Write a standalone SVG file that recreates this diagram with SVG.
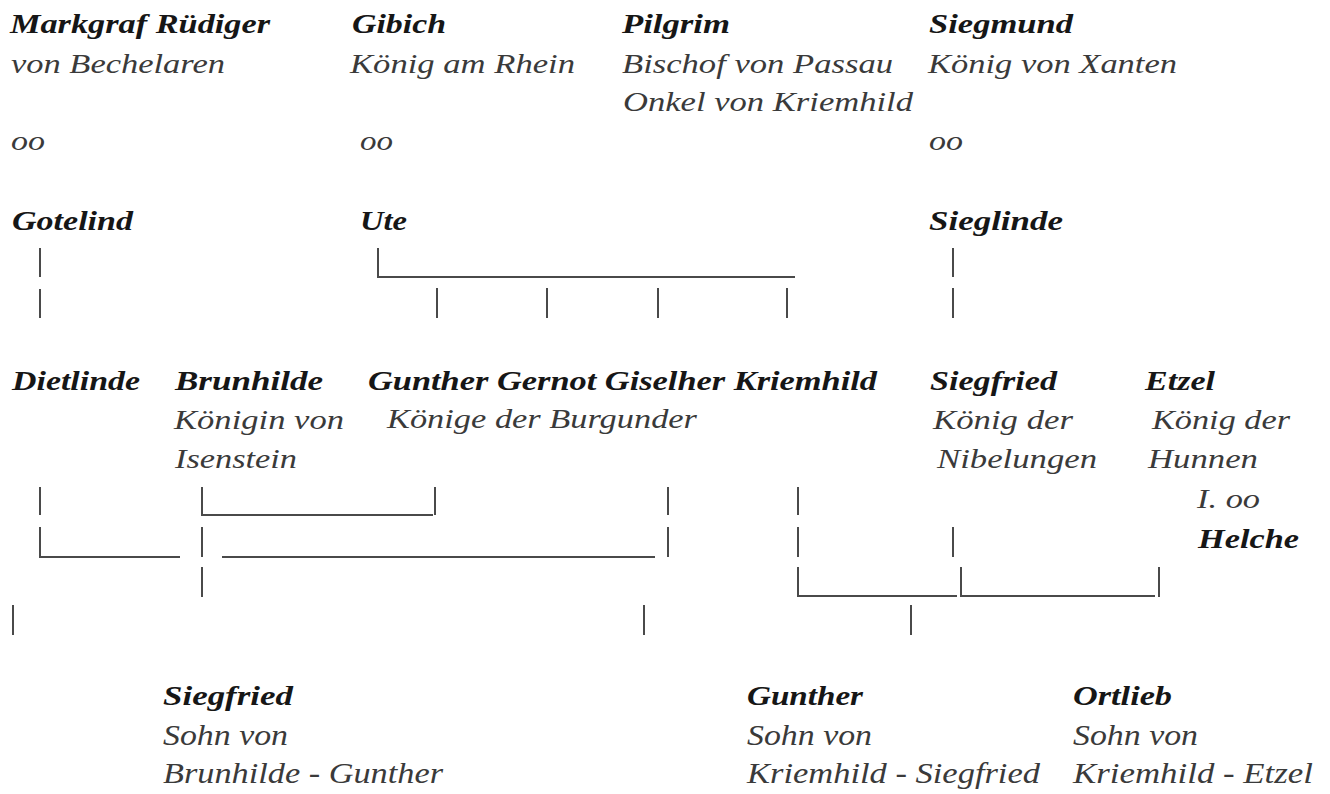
<svg xmlns="http://www.w3.org/2000/svg" width="1330" height="794" viewBox="0 0 1330 794" font-family="'Liberation Serif', Tinos, 'Times New Roman', Times, serif">
<style>
text{font-style:italic;font-size:28px;fill:#3a3a3a}
.n{font-weight:bold;font-size:27px;fill:#161616}
.b{font-size:30px}
.n.b{font-size:28px}
.c path{fill:none;stroke:#4a4a4a;stroke-width:2}
</style>
<rect width="1330" height="794" fill="#fff"/>
<g class="c" id="connectors">
<path d="M40 248V277M40 289V318"/>
<path d="M378 248V277H795"/>
<path d="M437 288V318M547 288V318M658 288V318M787 288V318"/>
<path d="M953 248V277M953 288V318"/>
<path d="M40 487V515M40 527V557H180"/>
<path d="M202 487V515H433M435 487V515"/>
<path d="M202 527V557M202 567V597"/>
<path d="M222 557H655"/>
<path d="M668 487V515M668 527V557"/>
<path d="M798 487V515M798 527V557M798 567V596H957"/>
<path d="M953 527V557"/>
<path d="M961 567V596H1155M1159 567V597"/>
<path d="M13 605V635M644 605V635M911 605V635"/>
</g>
<g id="ruediger"><text class="n" x="10" y="33" textLength="260" lengthAdjust="spacingAndGlyphs">Markgraf Rüdiger</text><text x="11" y="73" textLength="214" lengthAdjust="spacingAndGlyphs">von Bechelaren</text><text x="11" y="150" textLength="34" lengthAdjust="spacingAndGlyphs">oo</text></g>
<g id="gibich"><text class="n" x="352" y="33" textLength="94" lengthAdjust="spacingAndGlyphs">Gibich</text><text x="350" y="73" textLength="225" lengthAdjust="spacingAndGlyphs">König am Rhein</text><text x="360" y="150" textLength="33" lengthAdjust="spacingAndGlyphs">oo</text></g>
<g id="pilgrim"><text class="n" x="622" y="33" textLength="108" lengthAdjust="spacingAndGlyphs">Pilgrim</text><text x="622" y="73" textLength="271" lengthAdjust="spacingAndGlyphs">Bischof von Passau</text><text x="623" y="111" textLength="290" lengthAdjust="spacingAndGlyphs">Onkel von Kriemhild</text></g>
<g id="siegmund"><text class="n" x="929" y="33" textLength="144" lengthAdjust="spacingAndGlyphs">Siegmund</text><text x="928" y="73" textLength="249" lengthAdjust="spacingAndGlyphs">König von Xanten</text><text x="929" y="150" textLength="34" lengthAdjust="spacingAndGlyphs">oo</text></g>
<g id="gotelind"><text class="n" x="12" y="230" textLength="121" lengthAdjust="spacingAndGlyphs">Gotelind</text></g>
<g id="ute"><text class="n" x="360" y="230" textLength="47" lengthAdjust="spacingAndGlyphs">Ute</text></g>
<g id="sieglinde"><text class="n" x="929" y="230" textLength="134" lengthAdjust="spacingAndGlyphs">Sieglinde</text></g>
<g id="dietlinde"><text class="n" x="12" y="390" textLength="128" lengthAdjust="spacingAndGlyphs">Dietlinde</text></g>
<g id="brunhilde"><text class="n" x="175" y="390" textLength="148" lengthAdjust="spacingAndGlyphs">Brunhilde</text><text x="174" y="429" textLength="170" lengthAdjust="spacingAndGlyphs">Königin von</text><text x="175" y="468" textLength="122" lengthAdjust="spacingAndGlyphs">Isenstein</text></g>
<g id="burgunder"><text class="n" x="368" y="390" textLength="509" lengthAdjust="spacingAndGlyphs">Gunther Gernot Giselher Kriemhild</text><text x="387" y="428" textLength="310" lengthAdjust="spacingAndGlyphs">Könige der Burgunder</text></g>
<g id="siegfried"><text class="n" x="930" y="390" textLength="127" lengthAdjust="spacingAndGlyphs">Siegfried</text><text x="933" y="429" textLength="140" lengthAdjust="spacingAndGlyphs">König der</text><text x="937" y="468" textLength="160" lengthAdjust="spacingAndGlyphs">Nibelungen</text></g>
<g id="etzel"><text class="n" x="1145" y="390" textLength="70" lengthAdjust="spacingAndGlyphs">Etzel</text><text x="1152" y="429" textLength="138" lengthAdjust="spacingAndGlyphs">König der</text><text x="1148" y="468" textLength="110" lengthAdjust="spacingAndGlyphs">Hunnen</text><text x="1197" y="508" textLength="63" lengthAdjust="spacingAndGlyphs">I. oo</text><text class="n" x="1198" y="548" textLength="101" lengthAdjust="spacingAndGlyphs">Helche</text></g>
<g id="siegfried-sohn"><text class="n b" x="163" y="705" textLength="130" lengthAdjust="spacingAndGlyphs">Siegfried</text><text class="b" x="163" y="745" textLength="125" lengthAdjust="spacingAndGlyphs">Sohn von</text><text class="b" x="163" y="783" textLength="280" lengthAdjust="spacingAndGlyphs">Brunhilde - Gunther</text></g>
<g id="gunther-sohn"><text class="n b" x="747" y="705" textLength="116" lengthAdjust="spacingAndGlyphs">Gunther</text><text class="b" x="747" y="745" textLength="125" lengthAdjust="spacingAndGlyphs">Sohn von</text><text class="b" x="747" y="783" textLength="293" lengthAdjust="spacingAndGlyphs">Kriemhild - Siegfried</text></g>
<g id="ortlieb"><text class="n b" x="1073" y="705" textLength="99" lengthAdjust="spacingAndGlyphs">Ortlieb</text><text class="b" x="1073" y="745" textLength="125" lengthAdjust="spacingAndGlyphs">Sohn von</text><text class="b" x="1073" y="783" textLength="240" lengthAdjust="spacingAndGlyphs">Kriemhild - Etzel</text></g>
</svg>
